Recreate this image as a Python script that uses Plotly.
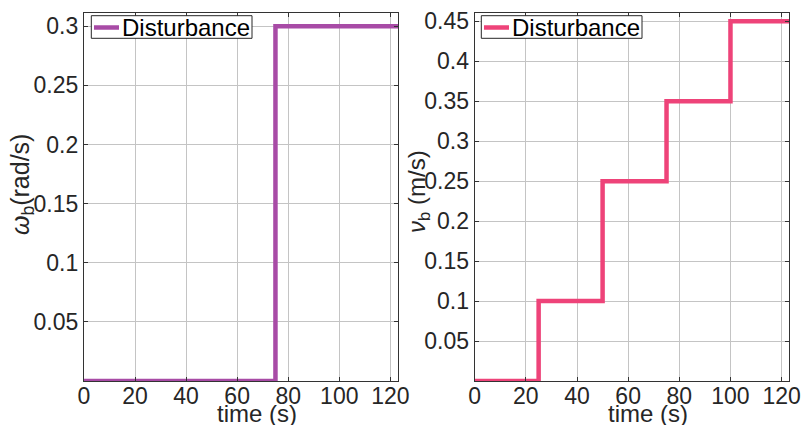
import plotly.graph_objects as go

# Disturbance profiles (step signals)
t_omega = [0, 75, 125]
omega_b = [0, 0.3, 0.3]

t_nu = [0, 25, 50, 75, 100, 125]
nu_b = [0, 0.1, 0.25, 0.35, 0.45, 0.45]

x_ticks = [0, 20, 40, 60, 80, 100, 120]
omega_ticks = [0.05, 0.1, 0.15, 0.2, 0.25, 0.3]
nu_ticks = [0.05, 0.1, 0.15, 0.2, 0.25, 0.3, 0.35, 0.4, 0.45]

PURPLE = "#A84BA6"
PINK = "#EE4379"
FONT = "Liberation Sans, Arial, sans-serif"
TXT = "#262626"

fig = go.Figure()
fig.add_trace(go.Scatter(x=t_omega, y=omega_b, mode="lines", line_shape="hv",
                         line=dict(color=PURPLE, width=4.5), name="Disturbance",
                         xaxis="x", yaxis="y", showlegend=False))
fig.add_trace(go.Scatter(x=t_nu, y=nu_b, mode="lines", line_shape="hv",
                         line=dict(color=PINK, width=4.5), name="Disturbance",
                         xaxis="x2", yaxis="y2", showlegend=False))

W, H = 802, 425
common_x = dict(range=[0, 123], tickvals=x_ticks, showgrid=True, gridcolor="#c4c4c4",
                gridwidth=1, showline=True, linecolor="#333333", linewidth=1.2,
                mirror="ticks", ticks="inside", ticklen=4, tickcolor="#333333",
                zeroline=False, automargin=False, ticklabelstandoff=-6,
                tickfont=dict(size=23, color=TXT, family=FONT))
common_y = dict(showgrid=True, gridcolor="#c4c4c4", gridwidth=1, showline=True,
                linecolor="#333333", linewidth=1.2, mirror="ticks", ticks="inside",
                ticklen=4, tickcolor="#333333", zeroline=False, automargin=False,
                tickfont=dict(size=23, color=TXT, family=FONT))

y_dom = [(H - 381) / H, (H - 13.3) / H]
x1_dom = [84 / W, 398 / W]
x2_dom = [474.7 / W, 789.3 / W]

fig.update_layout(
    width=W, height=H,
    margin=dict(l=0, r=0, t=0, b=0, autoexpand=False),
    paper_bgcolor="white", plot_bgcolor="white",
    font=dict(family=FONT, color=TXT),
    showlegend=False,
    xaxis=dict(domain=x1_dom, anchor="y", **common_x),
    yaxis=dict(domain=y_dom, anchor="x", range=[0, 0.311], tickvals=omega_ticks,
               ticktext=["0.05", "0.1", "0.15", "0.2", "0.25", "0.3"], **common_y),
    xaxis2=dict(domain=x2_dom, anchor="y2", **common_x),
    yaxis2=dict(domain=y_dom, anchor="x2", range=[0, 0.46], tickvals=nu_ticks,
                ticktext=["0.05", "0.1", "0.15", "0.2", "0.25", "0.3", "0.35", "0.4", "0.45"],
                **common_y),
)


def px_x(v):
    return v / W


def px_y(v):
    return 1 - v / H


# Legend boxes (one per panel)
for left, color in [(91.3, PURPLE), (481.3, PINK)]:
    fig.add_shape(type="rect", xref="paper", yref="paper",
                  x0=px_x(left), x1=px_x(left + 160.7), y0=px_y(38.3), y1=px_y(15.7),
                  line=dict(color=TXT, width=1), fillcolor="white", layer="above")
    fig.add_shape(type="line", xref="paper", yref="paper",
                  x0=px_x(left + 2.7), x1=px_x(left + 27.7), y0=px_y(27.5), y1=px_y(27.5),
                  line=dict(color=color, width=4.5), layer="above")
    fig.add_annotation(text="Disturbance", x=px_x(left + 28.5), y=px_y(27.3),
                       xref="paper", yref="paper", showarrow=False,
                       xanchor="left", yanchor="middle",
                       font=dict(size=24, color="black", family=FONT))

# Axis titles
for cx in (257, 647.5):
    fig.add_annotation(text="time (s)", x=px_x(cx), y=px_y(413), xref="paper", yref="paper",
                       showarrow=False, font=dict(size=24, color=TXT, family=FONT),
                       xanchor="center", yanchor="middle")
fig.add_annotation(text="<i>ω</i><sub>b</sub>(rad/s)", x=px_x(22), y=px_y(185),
                   xref="paper", yref="paper", showarrow=False, textangle=-90,
                   font=dict(size=25, color=TXT, family=FONT),
                   xanchor="center", yanchor="middle")
fig.add_annotation(text="<i>ν</i><sub>b</sub> (m/s)", x=px_x(418), y=px_y(191),
                   xref="paper", yref="paper", showarrow=False, textangle=-90,
                   font=dict(size=24, color=TXT, family=FONT),
                   xanchor="center", yanchor="middle")

fig.write_html("out.html")
